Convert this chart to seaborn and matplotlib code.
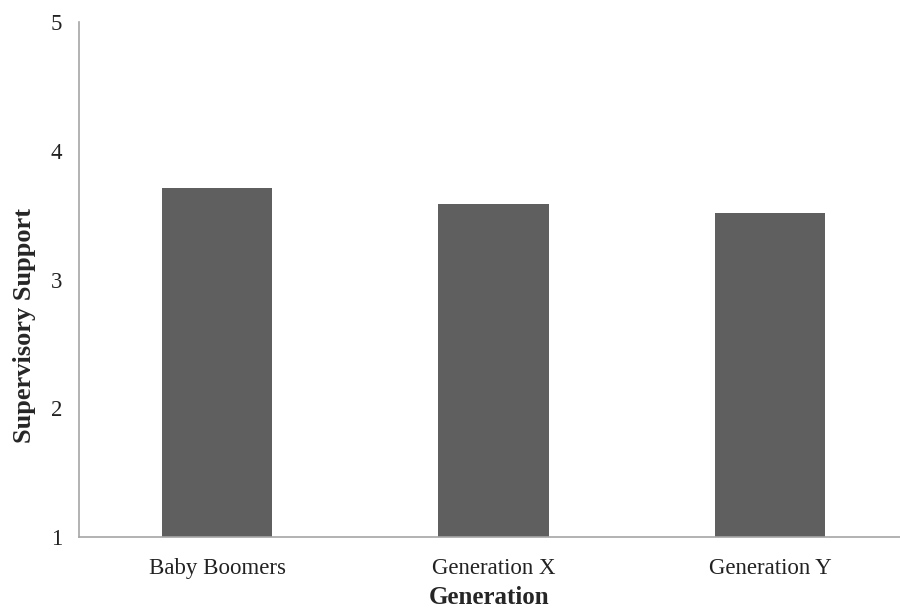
import matplotlib
matplotlib.use('Agg')
import matplotlib.pyplot as plt
import seaborn as sns
import pandas as pd

# Data
generations = ['Baby Boomers', 'Generation X', 'Generation Y']
support = [3.71, 3.59, 3.52]
y_ticks = [1, 2, 3, 4, 5]

df = pd.DataFrame({'Generation': generations, 'Supervisory Support': support})

sns.set_style('white')
plt.rcParams['font.family'] = ['Liberation Serif', 'DejaVu Serif']

fig = plt.figure(figsize=(9, 6.11), dpi=100)
ax = fig.add_axes([0.0878, 0.121, 0.912, 0.843])

sns.barplot(data=df, x='Generation', y='Supervisory Support', color='#5f5f5f',
            width=0.4, saturation=1, ax=ax)

# bars start at 1 (axis minimum)
for patch, val in zip(ax.patches, support):
    patch.set_y(1)
    patch.set_height(val - 1)
    patch.set_edgecolor('none')

ax.set_ylim(1, 5)
ax.set_xlim(-0.5, 2.47)
ax.set_yticks(y_ticks)
ax.tick_params(axis='both', length=0, labelsize=16.5, colors='#222222')
ax.tick_params(axis='x', pad=15)
ax.tick_params(axis='y', pad=12)

for side in ['top', 'right']:
    ax.spines[side].set_visible(False)
for side in ['left', 'bottom']:
    ax.spines[side].set_color('#a6a6a6')
    ax.spines[side].set_linewidth(1.2)

ax.set_xlabel('Generation', fontsize=18, fontweight='bold', labelpad=5)
ax.set_ylabel('Supervisory Support', fontsize=19, fontweight='bold')
ax.yaxis.set_label_coords(-0.052, 0.41)

fig.savefig('out.png', dpi=100)
